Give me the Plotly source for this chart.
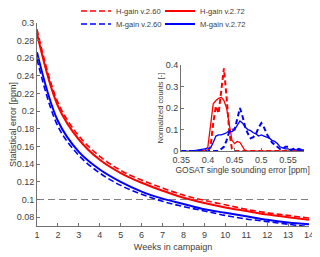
import plotly.graph_objects as go

# ---- main panel data ----
weeks = [1, 2, 3, 4, 5, 6, 7, 8, 9, 10, 11, 12, 13, 14]
h_gain_260 = [0.293, 0.210, 0.172, 0.149, 0.133, 0.122, 0.113, 0.105, 0.099, 0.094, 0.089, 0.085, 0.082, 0.079]
h_gain_272 = [0.288, 0.206, 0.168, 0.145, 0.130, 0.119, 0.110, 0.102, 0.096, 0.091, 0.087, 0.083, 0.080, 0.077]
m_gain_272 = [0.267, 0.189, 0.154, 0.134, 0.120, 0.109, 0.101, 0.095, 0.089, 0.085, 0.081, 0.077, 0.074, 0.072]
m_gain_260 = [0.259, 0.183, 0.150, 0.130, 0.116, 0.106, 0.098, 0.092, 0.087, 0.082, 0.078, 0.075, 0.072, 0.069]
threshold_x = [1, 14]
threshold_y = [0.1, 0.1]

# ---- inset data ----
h272_x = [0.385, 0.395, 0.40, 0.405, 0.41, 0.415, 0.42, 0.425, 0.43, 0.435, 0.44, 0.445, 0.45, 0.455, 0.46, 0.465, 0.47, 0.58]
h272_y = [0, 0.005, 0.02, 0.12, 0.22, 0.235, 0.245, 0.25, 0.235, 0.20, 0.12, 0.05, 0.035, 0.045, 0.04, 0.02, 0, 0]
h260_x = [0.40, 0.405, 0.41, 0.415, 0.42, 0.425, 0.43, 0.435, 0.44, 0.445, 0.45, 0.58]
h260_y = [0, 0.02, 0.13, 0.21, 0.175, 0.28, 0.385, 0.25, 0.09, 0.01, 0, 0]
m272_x = [0.35, 0.37, 0.38, 0.39, 0.40, 0.405, 0.41, 0.415, 0.42, 0.425, 0.43, 0.435, 0.44, 0.445, 0.45, 0.455,
          0.46, 0.465, 0.47, 0.475, 0.48, 0.485, 0.49, 0.495, 0.50, 0.505, 0.51, 0.515, 0.52, 0.525, 0.53, 0.535,
          0.54, 0.545, 0.55, 0.555, 0.56, 0.565, 0.57, 0.575, 0.58]
m272_y = [0, 0, 0.005, 0.008, 0.01, 0.015, 0.04, 0.07, 0.075, 0.075, 0.08, 0.085, 0.095, 0.09, 0.1, 0.12,
          0.14, 0.13, 0.11, 0.1, 0.095, 0.085, 0.08, 0.07, 0.075, 0.07, 0.065, 0.06, 0.05, 0.045, 0.035, 0.02,
          0.015, 0.01, 0.01, 0.005, 0.01, 0.005, 0.005, 0.005, 0.005]
m260_x = [0.35, 0.40, 0.42, 0.425, 0.43, 0.435, 0.44, 0.445, 0.45, 0.455, 0.46, 0.465, 0.47, 0.475, 0.48, 0.485,
          0.49, 0.495, 0.50, 0.505, 0.51, 0.515, 0.52, 0.525, 0.53, 0.535, 0.54, 0.545, 0.55, 0.555, 0.56, 0.565,
          0.57, 0.575, 0.58]
m260_y = [0, 0, 0.0, 0.01, 0.02, 0.05, 0.09, 0.1, 0.1, 0.15, 0.2, 0.16, 0.11, 0.08, 0.06, 0.065,
          0.08, 0.11, 0.13, 0.11, 0.08, 0.06, 0.04, 0.03, 0.02, 0.01, 0.01, 0.02, 0.02, 0.005, 0.01, 0.005,
          0.01, 0.005, 0.005]

RED = "#ff0000"
BLUE = "#0000ff"
TXT = "#404040"
AX = "#707070"
FONT = "Liberation Sans, Arial, sans-serif"
DASH = "6px,3px"

# the page body has an 8px margin, so the figure is 8px smaller and shifted
W, H = 312, 249

fig = go.Figure()

fig.add_trace(go.Scatter(x=threshold_x, y=threshold_y, mode="lines", showlegend=False,
                         line=dict(color="#808080", width=1.2, dash="7px,4px"), hoverinfo="skip"))

fig.add_trace(go.Scatter(x=weeks, y=h_gain_260, mode="lines", name="H-gain v.2.60", legend="legend",
                         line=dict(color=RED, width=1.6, dash=DASH, shape="spline")))
fig.add_trace(go.Scatter(x=weeks, y=h_gain_272, mode="lines", name="H-gain v.2.72", legend="legend2",
                         line=dict(color=RED, width=2, shape="spline")))
fig.add_trace(go.Scatter(x=weeks, y=m_gain_260, mode="lines", name="M-gain v.2.60", legend="legend3",
                         line=dict(color=BLUE, width=1.6, dash=DASH, shape="spline")))
fig.add_trace(go.Scatter(x=weeks, y=m_gain_272, mode="lines", name="M-gain v.2.72", legend="legend4",
                         line=dict(color=BLUE, width=2, shape="spline")))

# inset
fig.add_trace(go.Scatter(x=h272_x, y=h272_y, mode="lines", xaxis="x2", yaxis="y2", showlegend=False,
                         line=dict(color=RED, width=1.3)))
fig.add_trace(go.Scatter(x=h260_x, y=h260_y, mode="lines", xaxis="x2", yaxis="y2", showlegend=False,
                         line=dict(color=RED, width=2, dash="5px,3px")))
fig.add_trace(go.Scatter(x=m272_x, y=m272_y, mode="lines", xaxis="x2", yaxis="y2", showlegend=False,
                         line=dict(color=BLUE, width=1.3)))
fig.add_trace(go.Scatter(x=m260_x, y=m260_y, mode="lines", xaxis="x2", yaxis="y2", showlegend=False,
                         line=dict(color=BLUE, width=2, dash="5px,3px")))

axis_common = dict(showgrid=False, zeroline=False, showline=True, linecolor=AX, linewidth=1,
                   ticks="inside", ticklen=3, tickcolor=AX, mirror=False, automargin=False,
                   tickfont=dict(size=9, color=TXT, family=FONT))

legend_common = dict(orientation="h", xref="container", yref="container", xanchor="left", yanchor="middle",
                     bgcolor="rgba(0,0,0,0)", font=dict(size=7.6, color=TXT, family=FONT),
                     itemwidth=30, borderwidth=0)

col1, col2 = 68 / W, 152 / W
row1, row2 = 1 - 3 / H, 1 - 16 / H

fig.update_layout(
    width=W, height=H,
    margin=dict(l=29, r=11, t=15, b=31, autoexpand=False),
    paper_bgcolor="white", plot_bgcolor="white",
    font=dict(family=FONT, color=TXT, size=9),
    xaxis=dict(domain=[0, 1], range=[1, 14], tickmode="array", tickvals=weeks,
               title=dict(text="Weeks in campaign", font=dict(size=9, color=TXT), standoff=4),
               **axis_common),
    yaxis=dict(domain=[0, 1], range=[0.07, 0.3], tickmode="array",
               tickvals=[0.08, 0.1, 0.12, 0.14, 0.16, 0.18, 0.2, 0.22, 0.24, 0.26, 0.28, 0.3],
               title=dict(text="Statistical error [ppm]", font=dict(size=9, color=TXT), standoff=0),
               **axis_common),
    xaxis2=dict(domain=[0.53, 0.982], range=[0.35, 0.58], anchor="y2", tickmode="array",
                tickvals=[0.35, 0.4, 0.45, 0.5, 0.55],
                title=dict(text="GOSAT single sounding error [ppm]", font=dict(size=8.5, color=TXT), standoff=3),
                **axis_common),
    yaxis2=dict(domain=[0.369, 0.793], range=[0, 0.4], anchor="x2", tickmode="array",
                tickvals=[0, 0.1, 0.2, 0.3, 0.4],
                title=dict(text="Normalized counts [-]", font=dict(size=7.5, color=TXT), standoff=1),
                **axis_common),
    legend=dict(x=col1, y=row1, **legend_common),
    legend2=dict(x=col2, y=row1, **legend_common),
    legend3=dict(x=col1, y=row2, **legend_common),
    legend4=dict(x=col2, y=row2, **legend_common),
)

fig.write_html("out.html")
